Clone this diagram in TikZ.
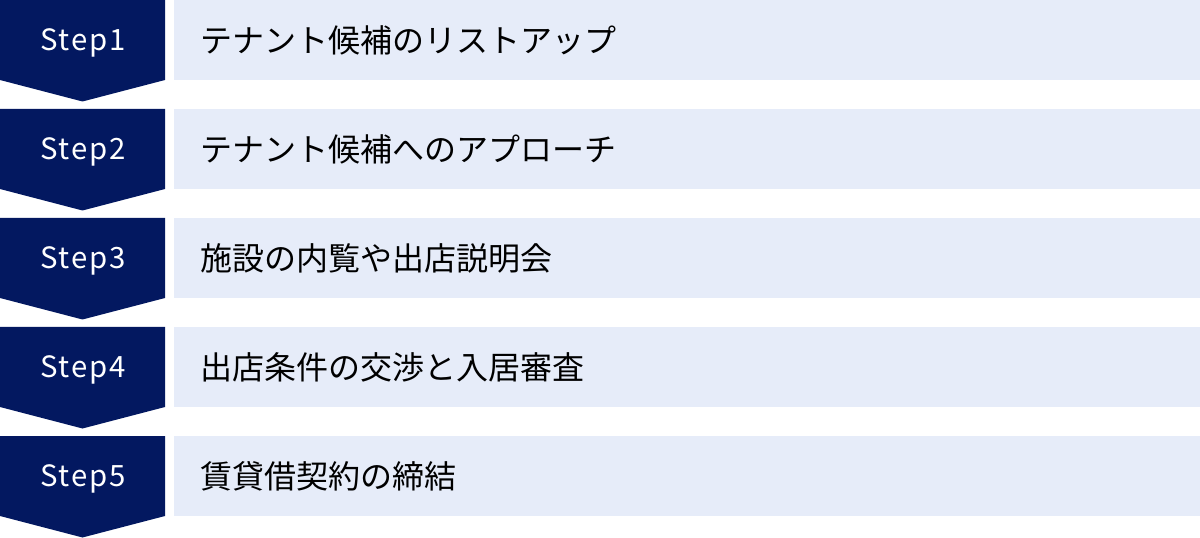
\documentclass[tikz,border=0pt]{standalone}
\usepackage{fontspec}
\setmainfont{Noto Sans}
\newfontfamily\jpfont{Noto Sans CJK JP}
\newfontfamily\steplatin[LetterSpace=6]{Noto Sans CJK JP}
\definecolor{stepnavy}{RGB}{3,24,96}
\definecolor{boxblue}{RGB}{230,236,249}
\tikzset{
  steplabel/.style={text=white, font=\steplatin\fontsize{22}{22}\selectfont},
  tasklabel/.style={anchor=west, text=black, font=\jpfont\fontsize{24}{24}\selectfont, inner sep=0pt},
}
\begin{document}
\begin{tikzpicture}[x=0.75pt, y=-0.75pt]
            \useasboundingbox (0,0) rectangle (1200,538);

            % Step chevrons
            \fill[stepnavy] (0,0) -- (165,0) -- (165,80) -- (82.5,101.5) -- (0,80) -- cycle;
            \fill[stepnavy] (0,109) -- (165,109) -- (165,189) -- (82.5,210.5) -- (0,189) -- cycle;
            \fill[stepnavy] (0,218) -- (165,218) -- (165,298) -- (82.5,319.5) -- (0,298) -- cycle;
            \fill[stepnavy] (0,327) -- (165,327) -- (165,407) -- (82.5,428.5) -- (0,407) -- cycle;
            \fill[stepnavy] (0,436) -- (165,436) -- (165,516) -- (82.5,537.5) -- (0,516) -- cycle;

            % Task boxes
            \fill[boxblue] (174,0) rectangle (1200,80);
            \fill[boxblue] (174,109) rectangle (1200,189);
            \fill[boxblue] (174,218) rectangle (1200,298);
            \fill[boxblue] (174,327) rectangle (1200,407);
            \fill[boxblue] (174,436) rectangle (1200,516);

            % Step labels
            \node[steplabel] (s1) at (83,43) {Step1};
            \node[steplabel] (s2) at (83,152) {Step2};
            \node[steplabel] (s3) at (83,261) {Step3};
            \node[steplabel] (s4) at (83,370) {Step4};
            \node[steplabel] (s5) at (83,479) {Step5};

            % Task labels
            \node[tasklabel] (t1) at (200,40) {テナント候補のリストアップ};
            \node[tasklabel] (t2) at (200,149) {テナント候補へのアプローチ};
            \node[tasklabel] (t3) at (200,258) {施設の内覧や出店説明会};
            \node[tasklabel] (t4) at (200,367) {出店条件の交渉と入居審査};
            \node[tasklabel] (t5) at (200,476) {賃貸借契約の締結};
\end{tikzpicture}
\end{document}
